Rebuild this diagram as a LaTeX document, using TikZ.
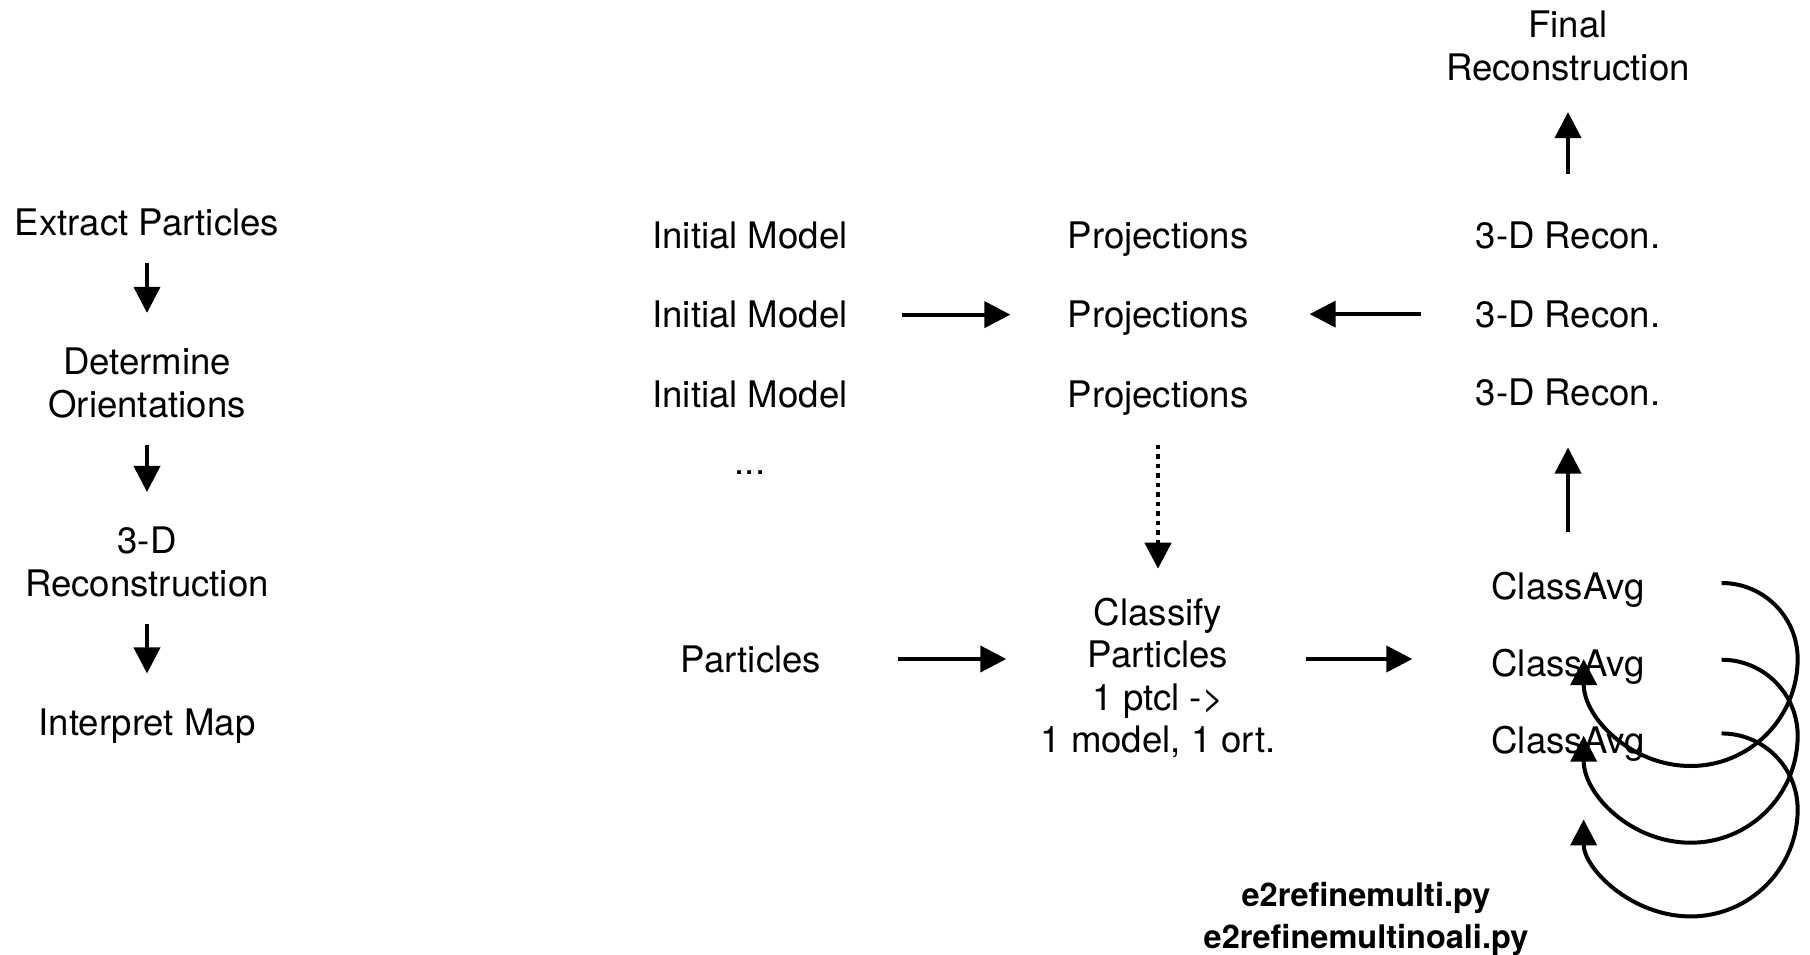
\documentclass[tikz,border=0pt]{standalone}
\usepackage{fontspec}
\setmainfont{TeX Gyre Heros}
\usetikzlibrary{arrows.meta,positioning}

\begin{document}
\begin{tikzpicture}[x=1pt,y=1pt,
	lbl/.style={inner sep=0pt,align=center,font=\fontsize{36.6}{42.5}\selectfont},
	script/.style={inner sep=0pt,align=center,font=\bfseries\fontsize{32.5}{42.5}\selectfont},
	paths/.style={->, line width=4pt, >={Triangle[length=26pt,width=26pt]}},
	down/.style={paths, shorten <=27pt, shorten >=35pt},
	dotpaths/.style={paths, line width=4.5pt, dash pattern=on 4.5pt off 5pt}
	]
\useasboundingbox (0,0) rectangle (1810,-955);

% pipeline on the left
\node [lbl] (ext) at (147,-222) {Extract Particles};
\node [lbl] (det) at (147,-383) {Determine\\Orientations};
\node [lbl] (rec) at (147,-562) {3-D\\Reconstruction};
\node [lbl] (map) at (147,-726) {Interpret Map};

% initial models and particles
\node [lbl] (im1) at (750,-235) {Initial Model};
\node [lbl] (im2) [below = 52pt of im1] {Initial Model};
\node [lbl] (im3) [below = 52pt of im2] {Initial Model};
\node [lbl] (etc) at (750,-473) {...};
\node [lbl] (part) at (751,-659) {Particles};

% projections and classification
\node [lbl] (pr1) at (1158,-239) {Projections};
\node [lbl] (pr2) [below = 44.5pt of pr1] {Projections};
\node [lbl] (pr3) [below = 44.5pt of pr2] {Projections};
\node [lbl] (cls) at (1158,-678) {Classify\\Particles\\1 ptcl ->\\1 model, 1 ort.};

% reconstructions
\node [lbl] (fin) at (1568,-46) {Final\\Reconstruction};
\node [lbl] (rc1) at (1568,-235) {3-D Recon.};
\node [lbl] (rc2) [below = 51.5pt of rc1] {3-D Recon.};
\node [lbl] (rc3) [below = 51pt of rc2] {3-D Recon.};

% class averages
\node [lbl] (ca1) at (1568,-590) {ClassAvg};
\node [lbl] (ca2) [below = 41pt of ca1] {ClassAvg};
\node [lbl] (ca3) [below = 41pt of ca2] {ClassAvg};

\node [script] (prog) at (1366,-919) {e2refinemulti.py\\e2refinemultinoali.py};

% left pipeline arrows
\draw [down] (ext) -- (det);
\draw [down] (det) -- (rec);
\draw [down] (rec) -- (map);

% refinement arrows
\draw [paths, shorten <=54pt, shorten >=57pt] (im2) -- (im2 -| pr2.west);
\draw [paths, shorten <=54pt, shorten >=61pt] (rc2) -- (rc2 -| pr2.east);
\draw [dotpaths, shorten <=29pt, shorten >=29pt] (pr3) -- (cls);
\draw [paths, shorten <=77pt, shorten >=34pt] (part) -- (part -| cls.west);
\draw [paths, shorten <=30pt, shorten >=79pt] (part -| cls.east) -- (part -| ca2.west);
\draw [paths, shorten <=40pt, shorten >=41pt] (ca1) -- (rc3);
\draw [paths, shorten <=47pt, shorten >=31pt] (rc1) -- (fin);

% iteration loops
\coordinate (l1) at ([xshift=77pt,yshift=7pt]ca1.east);
\coordinate (l2) at ([xshift=77pt,yshift=7pt]ca2.east);
\coordinate (l3) at ([xshift=77pt,yshift=10pt]ca3.east);
\draw [paths] (l1) arc [start angle=90, end angle=0, radius=76] arc [start angle=0, end angle=-180, radius=107];
\draw [paths] (l2) arc [start angle=90, end angle=0, radius=76] arc [start angle=0, end angle=-180, radius=107];
\draw [paths, shorten >=10pt] (l3) arc [start angle=90, end angle=0, radius=76] arc [start angle=0, end angle=-180, radius=107];
\end{tikzpicture}
\end{document}
